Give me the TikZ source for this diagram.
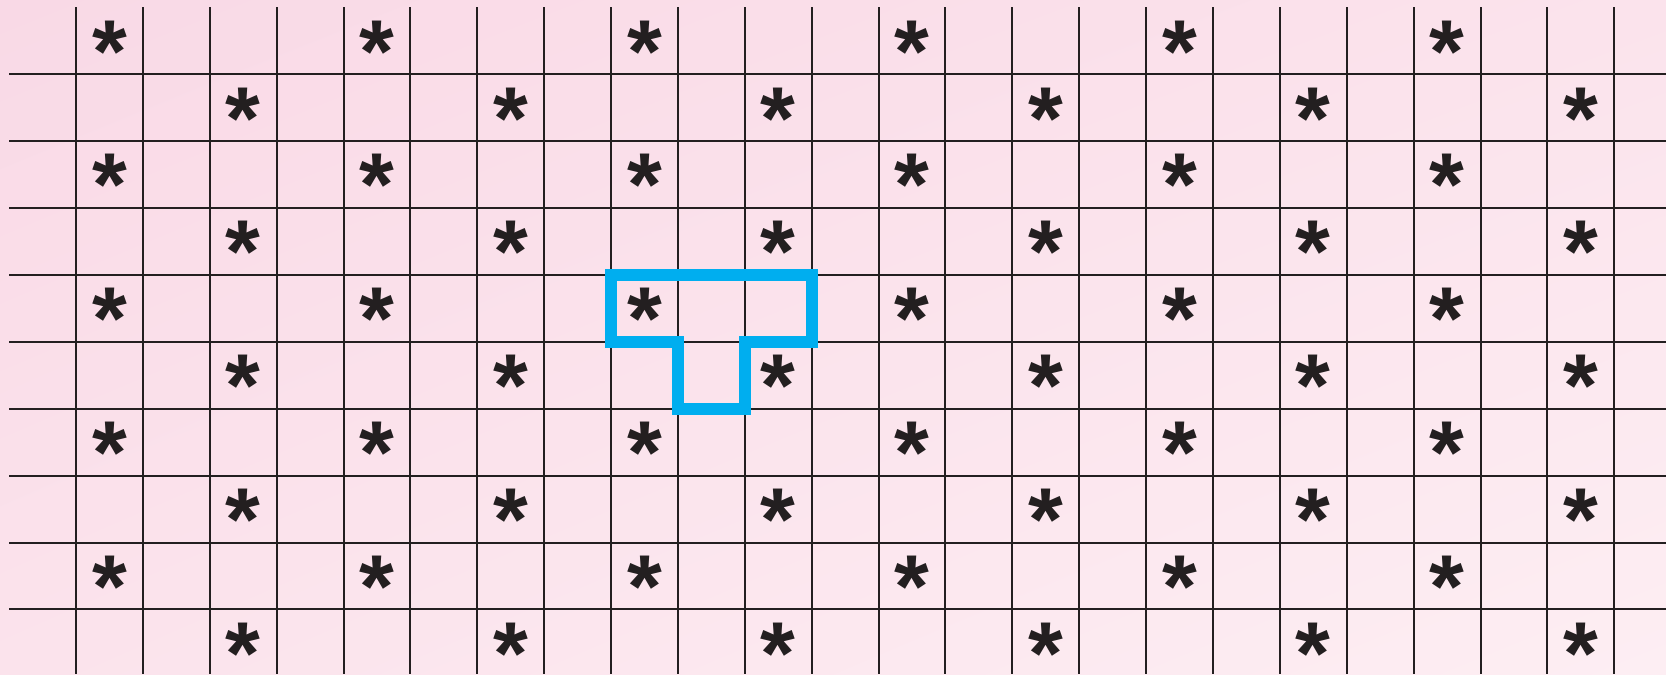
\documentclass[tikz,border=0pt]{standalone}
\usepackage{fontspec}
\setmainfont{Liberation Sans}
\usepackage{xcolor}
\usetikzlibrary{calc,shadings}
\definecolor{gridink}{HTML}{231F20}
\definecolor{tileblue}{HTML}{00AEEF}
\definecolor{pinkA}{HTML}{F9D9E6}
\definecolor{pinkB}{HTML}{FBE3EC}
\definecolor{pinkC}{HTML}{FDEEF3}

\begin{document}
\begin{tikzpicture}[x=1cm,y=1cm,
    gridline/.style={gridink,line width=0.85pt},
    star/.style={inner sep=0pt,yshift=-4.5pt,font=\bfseries\fontsize{38}{38}\selectfont,text=gridink},
    tile/.style={tileblue,line width=5pt,line join=miter}]
  \useasboundingbox (-1.136,-8.967) rectangle (23.773,1.111);
  \shade[upper left=pinkA,upper right=pinkB,lower left=pinkB,lower right=pinkC]
    (-1.136,-8.967) rectangle (23.773,1.111);
  % grid
  \foreach \k in {0,...,23}{\draw[gridline] (\k,1) -- (\k,-8.967);}
  \foreach \j in {0,...,8}{\draw[gridline] (-1,-\j) -- (23.773,-\j);}
  % asterisks, every fourth cell, shifted by two on alternate rows
  \foreach \r in {-1,...,8}{
    \pgfmathtruncatemacro\off{mod(\r+2,2)==1 ? 0 : 2}
    \foreach \c in {0,4,...,20}{
      \node[star] (s\r-\c) at (\c+\off+0.5,-\r-0.5) {*};
    }
  }
  % T piece
  \draw[tile] (8,-3) -- (11,-3) -- (11,-4) -- (10,-4) -- (10,-5) -- (9,-5) -- (9,-4) -- (8,-4) -- cycle;
\end{tikzpicture}
\end{document}
